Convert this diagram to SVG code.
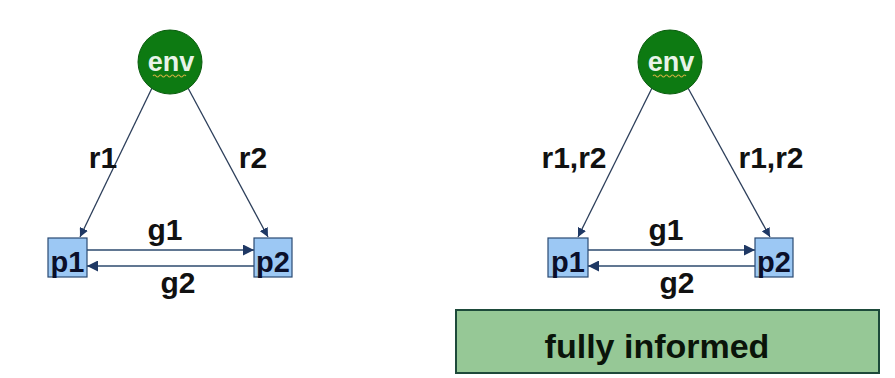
<svg xmlns="http://www.w3.org/2000/svg" width="895" height="378" viewBox="0 0 895 378">
  <defs>
    <marker id="arr" viewBox="0 0 10 10" refX="10" refY="5" markerWidth="9" markerHeight="9" markerUnits="userSpaceOnUse" orient="auto">
      <path d="M0,0 L10,5 L0,10 z" fill="#1f3864"/>
    </marker>
    <marker id="arrH" viewBox="0 0 10 10" refX="10" refY="5" markerWidth="11" markerHeight="11" markerUnits="userSpaceOnUse" orient="auto">
      <path d="M0,0 L10,5 L0,10 z" fill="#1f3864"/>
    </marker>
  </defs>
  <style>
    .env { fill: #0d7a12; stroke: #0a5c0e; stroke-width: 1; }
    .envtxt { font-family: "Liberation Sans", Arial, sans-serif; font-weight: bold; font-size: 27px; fill: #e8f4e8; text-anchor: middle; }
    .squig { fill: none; stroke: #c8b040; stroke-width: 1.2; }
    .proc { fill: #9cc8f4; stroke: #2a4a72; stroke-width: 1.2; }
    .ptxt { font-family: "Liberation Sans", Arial, sans-serif; font-weight: bold; font-size: 29px; fill: #0a0f2a; text-anchor: middle; }
    .lbl { font-family: "Liberation Sans", Arial, sans-serif; font-weight: bold; font-size: 30px; fill: #111; text-anchor: middle; }
    .edge { fill: none; stroke: #2c3e5a; stroke-width: 1.3; }
    .hedge { fill: none; stroke: #2c4a6e; stroke-width: 1.6; }
    .banner { fill: #96c896; stroke: #1d4a3a; stroke-width: 2; }
    .bantxt { font-family: "Liberation Sans", Arial, sans-serif; font-weight: bold; font-size: 34px; fill: #0a140a; text-anchor: middle; }
  </style>
  <rect width="895" height="378" fill="#ffffff"/>

  <!-- connectors -->
  <g id="connectors">
    <!-- left system -->
    <line class="edge" x1="152" y1="88" x2="80" y2="237" marker-end="url(#arr)"/>
    <line class="edge" x1="188" y1="88" x2="268" y2="237" marker-end="url(#arr)"/>
    <line class="hedge" x1="87" y1="250" x2="254" y2="250" marker-end="url(#arrH)"/>
    <line class="hedge" x1="254" y1="266" x2="87" y2="266" marker-end="url(#arrH)"/>
    <!-- right system -->
    <line class="edge" x1="652" y1="88" x2="578" y2="237" marker-end="url(#arr)"/>
    <line class="edge" x1="688" y1="88" x2="770" y2="237" marker-end="url(#arr)"/>
    <line class="hedge" x1="588" y1="250" x2="755" y2="250" marker-end="url(#arrH)"/>
    <line class="hedge" x1="755" y1="266" x2="588" y2="266" marker-end="url(#arrH)"/>
  </g>

  <!-- edge labels -->
  <g id="labels">
    <text class="lbl" x="103" y="168">r1</text>
    <text class="lbl" x="253" y="168">r2</text>
    <text class="lbl" x="165" y="240">g1</text>
    <text class="lbl" x="178" y="293">g2</text>
    <text class="lbl" x="574" y="168">r1,r2</text>
    <text class="lbl" x="771" y="168">r1,r2</text>
    <text class="lbl" x="666" y="240">g1</text>
    <text class="lbl" x="677" y="293">g2</text>
  </g>

  <g id="env-left">
    <circle class="env" cx="170" cy="62" r="32"/>
    <text class="envtxt" x="171" y="71">env</text>
    <path class="squig" d="M153,76 q1.5,-2 3,0 t3,0 t3,0 t3,0 t3,0 t3,0 t3,0 t3,0 t3,0 t3,0 t3,0"/>
  </g>
  <g id="p1-left">
    <rect class="proc" x="48" y="238" width="39" height="39"/>
    <text class="ptxt" x="67.5" y="272">p1</text>
  </g>
  <g id="p2-left">
    <rect class="proc" x="254" y="238" width="38" height="39"/>
    <text class="ptxt" x="273" y="272">p2</text>
  </g>

  <g id="env-right">
    <circle class="env" cx="670" cy="62" r="32"/>
    <text class="envtxt" x="671" y="71">env</text>
    <path class="squig" d="M653,76 q1.5,-2 3,0 t3,0 t3,0 t3,0 t3,0 t3,0 t3,0 t3,0 t3,0 t3,0 t3,0"/>
  </g>
  <g id="p1-right">
    <rect class="proc" x="548" y="238" width="40" height="39"/>
    <text class="ptxt" x="568" y="272">p1</text>
  </g>
  <g id="p2-right">
    <rect class="proc" x="755" y="238" width="38" height="39"/>
    <text class="ptxt" x="774" y="272">p2</text>
  </g>

  <g id="fully-informed">
    <rect class="banner" x="456" y="310" width="423" height="63"/>
    <text class="bantxt" x="657" y="358">fully informed</text>
  </g>
</svg>
